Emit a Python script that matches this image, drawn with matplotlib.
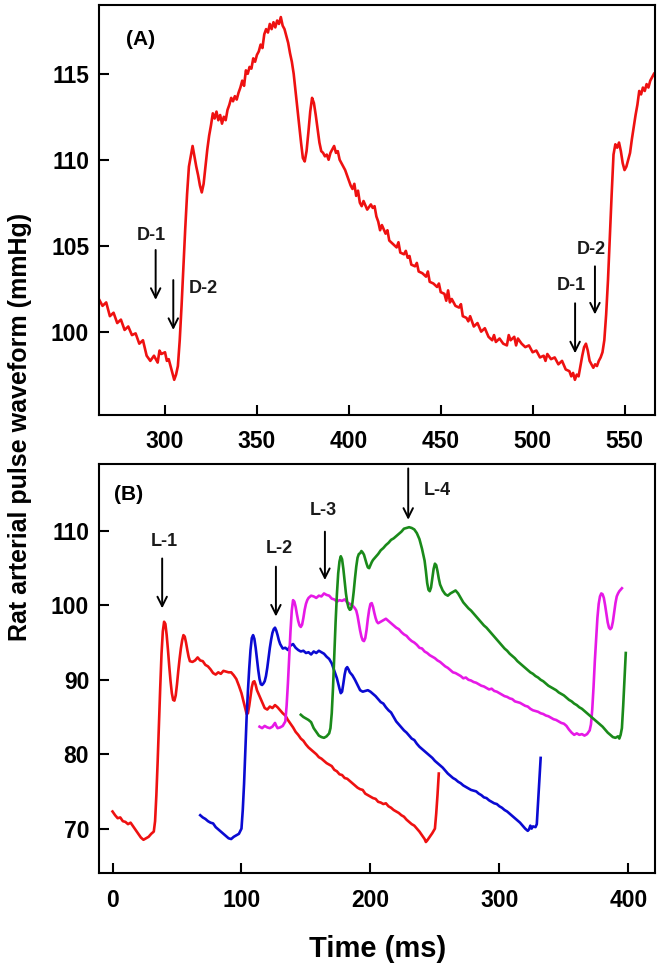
import matplotlib
matplotlib.use("Agg")
import matplotlib.pyplot as plt

# ---------------- Panel (A) data ----------------
a_time = [264, 266, 268, 270, 272, 274, 276, 278, 280, 282, 284, 286, 288, 290, 292, 294, 296, 297, 298, 300,
          301, 302, 304, 305, 306, 307, 308, 309, 310, 311, 312, 313, 314, 315, 316, 317, 318, 319, 320, 321,
          322, 323, 324, 325, 326, 327, 328, 329, 330, 331, 332, 333, 334, 335, 336, 337, 338, 339, 340, 341,
          342, 343, 344, 345, 346, 347, 348, 349, 350, 351, 352, 353, 354, 355, 356, 357, 358, 359, 360, 361,
          362, 363, 364, 365, 366, 367, 368, 369, 370, 371, 372, 373, 374, 375, 376, 377, 378, 379, 380, 381,
          382, 383, 384, 385, 386, 387, 388, 389, 390, 391, 392, 393, 394, 395, 396, 398, 400, 401, 402, 403,
          404, 405, 406, 407, 408, 410, 412, 413, 414, 415, 416, 417, 418, 420, 421, 422, 424, 426, 427, 428,
          430, 431, 432, 433, 434, 436, 437, 438, 440, 442, 443, 444, 446, 448, 449, 450, 452, 453, 454, 455,
          456, 458, 460, 461, 462, 464, 465, 466, 468, 470, 472, 474, 476, 478, 479, 480, 482, 484, 486, 487,
          488, 490, 491, 492, 494, 496, 498, 500, 502, 504, 506, 507, 508, 510, 512, 514, 516, 518, 520, 521,
          522, 523, 524, 525, 526, 527, 528, 529, 530, 531, 532, 533, 534, 535, 536, 537, 538, 539, 540, 541,
          542, 543, 544, 545, 546, 547, 548, 549, 550, 551, 552, 553, 554, 555, 556, 557, 558, 559, 560, 561,
          562, 563, 564, 565, 566]
a_pressure = [101.9, 101.5, 101.7, 100.9, 101.1, 100.5, 100.7, 100.1, 100.3, 99.8, 99.9, 99.3, 99.5, 98.6, 98.3, 98.6, 98.2, 98.9, 98.7, 98.8,
              98.3, 98.4, 97.6, 97.2, 97.5, 98.0, 99.5, 101.5, 103.8, 106.0, 108.0, 109.6, 110.2, 110.8, 110.2, 109.6, 109.1, 108.5, 108.1, 108.6,
              109.6, 110.6, 111.4, 112.0, 112.7, 112.4, 112.8, 112.3, 112.6, 112.1, 112.5, 112.3, 112.9, 113.2, 113.6, 113.4, 113.7, 113.5, 113.9, 114.2,
              114.6, 114.3, 115.2, 115.0, 115.4, 115.3, 115.9, 115.7, 116.1, 116.3, 116.7, 116.5, 117.3, 117.6, 117.4, 117.9, 117.6, 118.0, 117.7, 118.1,
              117.9, 118.3, 117.8, 117.6, 117.2, 116.8, 116.2, 115.7, 115.0, 114.0, 113.0, 112.0, 111.0, 110.1, 109.9, 110.5, 111.6, 112.8, 113.6, 113.3,
              112.6, 111.8, 111.0, 110.5, 110.4, 110.2, 110.3, 110.0, 110.4, 110.6, 110.8, 110.4, 110.5, 110.0, 109.8, 109.4, 108.8, 108.5, 108.3, 108.6,
              107.9, 108.2, 107.5, 107.3, 107.6, 107.1, 107.4, 107.2, 107.3, 106.7, 106.4, 105.9, 106.2, 105.7, 105.9, 105.3, 105.1, 104.9, 105.2, 104.6,
              104.5, 104.7, 104.3, 104.4, 103.9, 103.8, 104.0, 103.5, 103.4, 103.2, 103.5, 102.9, 102.8, 102.6, 102.8, 102.3, 102.2, 101.8, 102.4, 101.7,
              101.9, 101.5, 101.4, 101.6, 100.9, 100.8, 100.6, 100.9, 100.3, 100.5, 100.0, 100.2, 99.7, 99.5, 99.8, 99.4, 99.6, 99.3, 99.2, 99.8,
              99.5, 99.7, 99.2, 99.6, 99.3, 99.1, 99.2, 98.8, 98.9, 98.5, 98.6, 98.3, 98.7, 98.4, 98.5, 98.1, 98.3, 97.8, 97.7, 97.4,
              97.6, 97.2, 97.5, 97.4, 98.0, 98.6, 99.1, 99.3, 98.9, 98.3, 98.1, 97.9, 98.1, 98.0, 98.3, 98.5, 98.8, 99.5, 101.0, 103.0,
              105.5, 108.0, 110.3, 110.9, 110.7, 111.0, 110.5, 109.8, 109.4, 109.6, 110.0, 110.4, 111.2, 111.9, 112.6, 113.2, 114.0, 113.8, 114.2, 114.0,
              114.4, 114.2, 114.6, 114.8, 115.0]

# ---------------- Panel (B) data ----------------
l1_time = [0, 2, 4, 6, 8, 10, 12, 14, 16, 18, 20, 22, 24, 26, 28, 30, 32, 33, 34, 35,
           36, 37, 38, 39, 40, 41, 42, 43, 44, 45, 46, 47, 48, 49, 50, 51, 52, 53, 54, 55,
           56, 57, 58, 59, 60, 62, 64, 66, 67, 68, 70, 72, 74, 76, 78, 80, 82, 84, 86, 88,
           90, 92, 94, 96, 98, 100, 102, 104, 105, 106, 107, 108, 109, 110, 111, 112, 114, 116, 118, 120,
           122, 124, 126, 128, 130, 132, 134, 136, 138, 140, 142, 144, 146, 148, 150, 152, 154, 156, 158, 160,
           162, 164, 166, 168, 170, 172, 174, 176, 178, 180, 182, 184, 186, 188, 190, 192, 194, 196, 198, 200,
           202, 204, 206, 208, 210, 212, 214, 216, 218, 220, 222, 224, 226, 228, 230, 232, 234, 236, 238, 240,
           242, 243, 244, 246, 248, 250, 251, 252, 253]
l1_pressure = [72.3, 71.8, 71.4, 71.5, 71.0, 70.9, 70.6, 70.8, 70.3, 69.8, 69.3, 68.8, 68.5, 68.7, 68.9, 69.3, 69.6, 71.0, 74.5, 79.0,
               84.0, 89.0, 93.5, 96.5, 97.8, 97.5, 96.0, 94.0, 91.8, 89.8, 88.2, 87.3, 87.2, 87.9, 89.4, 91.2, 92.8, 94.2, 95.3, 96.0,
               95.8, 95.0, 94.0, 93.1, 92.5, 92.4, 92.6, 93.0, 92.8, 92.6, 92.5, 92.0, 91.8, 91.4, 90.9, 90.7, 91.0, 90.8, 91.2, 91.1,
               91.0, 91.0, 90.6, 90.1, 89.2, 88.2, 86.8, 85.4, 85.5, 86.5, 87.8, 89.0, 89.7, 89.8, 89.3, 88.6, 87.8, 87.0, 86.2, 86.0,
               86.4, 86.2, 86.6, 86.3, 85.9, 85.5, 85.2, 84.6, 84.1, 83.6, 83.0, 82.6, 82.1, 81.8, 81.3, 80.9, 80.6, 80.3, 80.0, 79.6,
               79.4, 79.1, 78.8, 78.6, 78.4, 77.9, 77.7, 77.3, 77.2, 76.8, 76.7, 76.4, 76.1, 75.8, 75.5, 75.3, 75.2, 74.7, 74.5, 74.3,
               74.1, 74.0, 73.6, 73.5, 73.3, 73.4, 73.0, 72.8, 72.5, 72.3, 72.1, 71.8, 71.6, 71.2, 70.9, 70.6, 70.4, 70.0, 69.6, 69.1,
               68.6, 68.2, 68.4, 68.9, 69.4, 70.0, 72.0, 74.5, 77.4]

l2_time = [68, 70, 72, 74, 76, 78, 80, 82, 84, 86, 88, 90, 92, 94, 96, 98, 100, 101, 102, 103,
           104, 105, 106, 107, 108, 109, 110, 111, 112, 113, 114, 115, 116, 117, 118, 119, 120, 121, 122, 123,
           124, 125, 126, 127, 128, 129, 130, 132, 134, 136, 138, 140, 142, 144, 146, 148, 150, 152, 154, 156,
           158, 160, 162, 164, 166, 168, 170, 172, 174, 176, 177, 178, 179, 180, 181, 182, 183, 184, 186, 188,
           190, 192, 194, 196, 198, 200, 202, 204, 206, 208, 210, 212, 214, 216, 218, 220, 222, 224, 226, 228,
           230, 232, 234, 236, 238, 240, 242, 244, 246, 248, 250, 252, 254, 256, 258, 260, 262, 264, 266, 268,
           270, 272, 274, 276, 278, 280, 282, 284, 286, 288, 290, 292, 294, 296, 298, 300, 302, 304, 306, 308,
           310, 312, 314, 316, 318, 320, 322, 323, 324, 325, 326, 328, 329, 330, 331, 332]
l2_pressure = [71.8, 71.5, 71.3, 71.0, 70.8, 70.7, 70.2, 69.9, 69.6, 69.3, 69.0, 68.7, 68.6, 68.9, 69.1, 69.3, 70.0, 72.5, 76.0, 80.5,
               85.0, 88.5, 91.5, 94.0, 95.6, 96.0, 95.5, 94.3, 92.8, 91.3, 90.1, 89.4, 89.3, 89.5, 89.8, 90.5, 91.6, 93.0, 94.3, 95.4,
               96.3, 96.8, 97.0, 96.6, 96.0, 95.3, 94.8, 94.2, 94.3, 94.0, 94.6, 94.8, 94.3, 94.0, 93.8, 93.9, 93.6, 93.7, 93.4, 93.8,
               93.6, 93.9, 93.7, 93.5, 93.1, 92.8, 92.2, 91.2, 90.2, 88.8, 88.2, 88.4, 89.5, 90.7, 91.5, 91.7, 91.4, 91.0, 90.6, 90.0,
               89.3, 88.6, 88.4, 88.5, 88.6, 88.4, 88.1, 87.8, 87.4, 87.0, 86.8, 86.3, 85.9, 85.6, 85.0, 84.4, 84.0, 83.6, 83.2, 82.9,
               82.5, 82.1, 81.9, 81.4, 81.0, 80.7, 80.4, 80.1, 79.8, 79.5, 79.1, 78.8, 78.5, 78.2, 77.8, 77.4, 77.1, 76.8, 76.6, 76.3,
               76.1, 75.8, 75.6, 75.4, 75.2, 75.1, 75.0, 74.7, 74.5, 74.2, 74.1, 73.8, 73.6, 73.4, 73.3, 73.0, 72.8, 72.5, 72.3, 72.0,
               71.7, 71.4, 71.1, 70.8, 70.4, 70.0, 69.7, 69.9, 70.4, 70.0, 70.3, 70.2, 70.6, 73.5, 76.5, 79.5]

l3_time = [114, 116, 118, 120, 122, 124, 126, 127, 128, 130, 132, 134, 135, 136, 137, 138, 139, 140, 141, 142,
           143, 144, 145, 146, 147, 148, 149, 150, 151, 152, 154, 156, 158, 160, 162, 164, 166, 168, 170, 172,
           174, 176, 178, 180, 182, 184, 186, 188, 189, 190, 191, 192, 193, 194, 195, 196, 197, 198, 199, 200,
           201, 202, 203, 204, 205, 206, 208, 210, 212, 214, 216, 218, 220, 222, 224, 226, 228, 230, 232, 234,
           236, 238, 240, 242, 244, 246, 248, 250, 252, 254, 256, 258, 260, 262, 264, 266, 268, 270, 272, 274,
           276, 278, 280, 282, 284, 286, 288, 290, 292, 294, 296, 298, 300, 302, 304, 306, 308, 310, 312, 314,
           316, 318, 320, 322, 324, 326, 328, 330, 332, 334, 336, 338, 340, 342, 344, 346, 348, 350, 352, 354,
           356, 358, 360, 362, 364, 366, 368, 370, 371, 372, 373, 374, 375, 376, 377, 378, 379, 380, 381, 382,
           383, 384, 385, 386, 387, 388, 389, 390, 391, 392, 393, 394, 395]
l3_pressure = [83.7, 83.5, 83.8, 83.6, 83.5, 83.7, 84.2, 83.8, 83.5, 83.6, 83.8, 84.4, 86.5, 89.5, 93.0, 96.5, 99.3, 100.7, 100.5, 99.8,
               98.8, 97.9, 97.3, 97.1, 97.4, 98.3, 99.4, 100.2, 100.7, 101.0, 101.3, 101.2, 101.0, 101.3, 101.2, 101.6, 101.4, 101.3, 100.9, 100.8,
               100.5, 100.7, 100.6, 100.8, 100.4, 100.2, 100.0, 99.6, 99.3, 98.6, 97.6, 96.6, 95.8, 95.3, 95.2, 95.6, 96.7, 98.2, 99.4, 100.2,
               100.3, 99.8, 99.0, 98.3, 97.8, 97.6, 97.8, 98.0, 98.2, 97.9, 97.6, 97.3, 97.0, 96.8, 96.4, 96.1, 95.9, 95.5, 95.2, 95.0,
               94.7, 94.3, 94.2, 93.8, 93.6, 93.3, 93.1, 92.9, 92.6, 92.4, 92.1, 91.8, 91.6, 91.3, 91.0, 90.9, 90.7, 90.5, 90.2, 90.3,
               90.0, 89.9, 89.7, 89.6, 89.4, 89.2, 89.1, 88.9, 88.7, 88.8, 88.5, 88.4, 88.2, 88.0, 87.8, 87.7, 87.5, 87.4, 87.1, 87.0,
               86.9, 86.7, 86.5, 86.4, 86.1, 85.9, 85.8, 85.7, 85.5, 85.4, 85.2, 85.1, 84.9, 84.7, 84.6, 84.4, 84.2, 84.1, 83.8, 83.3,
               82.9, 82.6, 82.8, 82.6, 82.7, 82.5, 82.7, 83.2, 84.0, 86.0, 89.0, 92.5, 95.5, 98.3, 100.2, 101.2, 101.6, 101.5, 101.0, 100.0,
               98.8, 97.7, 97.0, 96.8, 97.0, 97.8, 99.0, 100.3, 101.2, 101.6, 101.9, 102.1, 102.3]

l4_time = [146, 148, 150, 152, 154, 156, 158, 160, 162, 164, 166, 168, 169, 170, 171, 172, 173, 174, 175, 176,
           177, 178, 179, 180, 181, 182, 183, 184, 185, 186, 187, 188, 189, 190, 191, 192, 193, 194, 195, 196,
           197, 198, 199, 200, 201, 202, 204, 206, 208, 210, 212, 214, 216, 218, 220, 222, 224, 226, 228, 230,
           232, 234, 236, 238, 240, 242, 243, 244, 245, 246, 247, 248, 249, 250, 251, 252, 253, 254, 256, 258,
           260, 262, 264, 266, 268, 270, 272, 274, 276, 278, 280, 282, 284, 286, 288, 290, 292, 294, 296, 298,
           300, 302, 304, 306, 308, 310, 312, 314, 316, 318, 320, 322, 324, 326, 328, 330, 332, 334, 336, 338,
           340, 342, 344, 346, 348, 350, 352, 354, 356, 358, 360, 362, 364, 366, 368, 370, 372, 374, 376, 378,
           380, 382, 384, 386, 388, 390, 392, 393, 394, 395, 396, 397, 398]
l4_pressure = [85.3, 85.0, 84.8, 84.6, 84.3, 83.5, 83.0, 82.5, 82.3, 82.2, 82.4, 82.8, 83.5, 85.5, 89.0, 93.5, 97.8, 101.5, 104.3, 105.9,
               106.6, 106.2, 104.9, 103.2, 101.6, 100.4, 99.7, 99.4, 99.5, 100.3, 101.8, 103.6, 105.2, 106.4, 106.9, 107.0, 107.3, 107.1, 106.8, 106.2,
               105.6, 105.1, 105.0, 105.4, 105.8, 106.1, 106.5, 106.9, 107.4, 107.7, 108.1, 108.4, 108.8, 109.0, 109.3, 109.6, 109.9, 110.3, 110.4, 110.5,
               110.4, 110.2, 109.7, 108.9, 107.6, 106.0, 104.6, 103.0, 102.1, 101.9, 102.4, 103.6, 104.9, 105.6, 105.4, 104.6, 103.6, 102.8, 102.0, 101.5,
               101.3, 101.6, 101.8, 102.0, 101.6, 101.0, 100.4, 100.0, 99.6, 99.3, 98.9, 98.5, 98.1, 97.7, 97.3, 97.0, 96.6, 96.2, 95.8, 95.4,
               95.0, 94.6, 94.2, 93.9, 93.5, 93.2, 92.9, 92.5, 92.2, 91.9, 91.6, 91.3, 91.0, 90.8, 90.5, 90.3, 90.0, 89.8, 89.5, 89.2,
               89.0, 88.8, 88.6, 88.3, 88.1, 87.9, 87.6, 87.3, 87.1, 86.8, 86.6, 86.3, 86.1, 85.8, 85.5, 85.2, 84.9, 84.6, 84.3, 84.0,
               83.7, 83.3, 82.9, 82.6, 82.3, 82.2, 82.4, 82.1, 82.6, 83.5, 86.5, 90.0, 93.6]

a_xticks = [300, 350, 400, 450, 500, 550]
a_yticks = [100, 105, 110, 115]
b_xticks = [0, 100, 200, 300, 400]
b_yticks = [70, 80, 90, 100, 110]

plt.rcParams['font.family'] = ['Liberation Sans', 'DejaVu Sans']
plt.rcParams['font.weight'] = 'bold'

fig = plt.figure(figsize=(6.59, 9.69), dpi=100)
axA = fig.add_axes([0.150, 0.5717, 0.844, 0.4231])
axB = fig.add_axes([0.150, 0.0988, 0.844, 0.4224])

RED = '#ee1111'
BLUE = '#0a0ad2'
MAG = '#e619e6'
GREEN = '#1a8a1a'
LW = 1.9

axA.plot(a_time, a_pressure, color=RED, lw=LW)
axA.set_xlim(264, 566.6)
axA.set_ylim(95.15, 119.0)
axA.set_xticks(a_xticks)
axA.set_yticks(a_yticks)

axB.plot(l1_time, l1_pressure, color=RED, lw=LW)
axB.plot(l2_time, l2_pressure, color=BLUE, lw=LW)
axB.plot(l3_time, l3_pressure, color=MAG, lw=LW)
axB.plot(l4_time, l4_pressure, color=GREEN, lw=LW)
axB.set_xlim(-10.6, 420.7)
axB.set_ylim(64.0, 119.0)
axB.set_xticks(b_xticks)
axB.set_yticks(b_yticks)

for ax in (axA, axB):
    for s in ax.spines.values():
        s.set_linewidth(1.5)
    ax.tick_params(direction='in', length=7, width=1.5, labelsize=16.5)
    ax.tick_params(axis='x', pad=11)
    ax.tick_params(axis='y', pad=7)
    for lab in ax.get_xticklabels() + ax.get_yticklabels():
        lab.set_fontweight('bold')

arrow_kw = dict(arrowstyle='->', color='black', lw=1.4, mutation_scale=17, shrinkA=0, shrinkB=0)
txt_kw = dict(fontsize=13, fontweight='bold', color='#1a1a1a')

# Panel A annotations
axA.text(278.7, 117.0, '(A)', fontsize=15, fontweight='bold', ha='left', va='center')
axA.annotate('', xy=(294.9, 101.85), xytext=(294.9, 104.75), arrowprops=arrow_kw)
axA.text(292.7, 105.6, 'D-1', ha='center', va='center', **txt_kw)
axA.annotate('', xy=(304.5, 100.1), xytext=(304.5, 103.0), arrowprops=arrow_kw)
axA.text(313.0, 102.5, 'D-2', ha='left', va='center', **txt_kw)
axA.annotate('', xy=(523.1, 98.74), xytext=(523.1, 101.65), arrowprops=arrow_kw)
axA.text(521.2, 102.7, 'D-1', ha='center', va='center', **txt_kw)
axA.annotate('', xy=(533.9, 101.0), xytext=(533.9, 103.8), arrowprops=arrow_kw)
axA.text(531.7, 104.75, 'D-2', ha='center', va='center', **txt_kw)

# Panel B annotations
axB.text(1.0, 114.85, '(B)', fontsize=15, fontweight='bold', ha='left', va='center')
axB.annotate('', xy=(38.5, 99.6), xytext=(38.5, 106.3), arrowprops=arrow_kw)
axB.text(40.0, 108.6, 'L-1', ha='center', va='center', **txt_kw)
axB.annotate('', xy=(126.7, 98.5), xytext=(126.7, 105.2), arrowprops=arrow_kw)
axB.text(129.2, 107.7, 'L-2', ha='center', va='center', **txt_kw)
axB.annotate('', xy=(164.7, 103.4), xytext=(164.7, 109.9), arrowprops=arrow_kw)
axB.text(163.4, 112.8, 'L-3', ha='center', va='center', **txt_kw)
axB.annotate('', xy=(229.3, 111.5), xytext=(229.3, 118.4), arrowprops=arrow_kw)
axB.text(241.0, 115.5, 'L-4', ha='left', va='center', **txt_kw)

fig.text(0.031, 0.559, 'Rat arterial pulse waveform (mmHg)', rotation=90,
         ha='center', va='center', fontsize=18, fontweight='bold')
fig.text(0.573, 0.021, 'Time (ms)', ha='center', va='center', fontsize=21, fontweight='bold')

fig.savefig('out.png', dpi=100)
